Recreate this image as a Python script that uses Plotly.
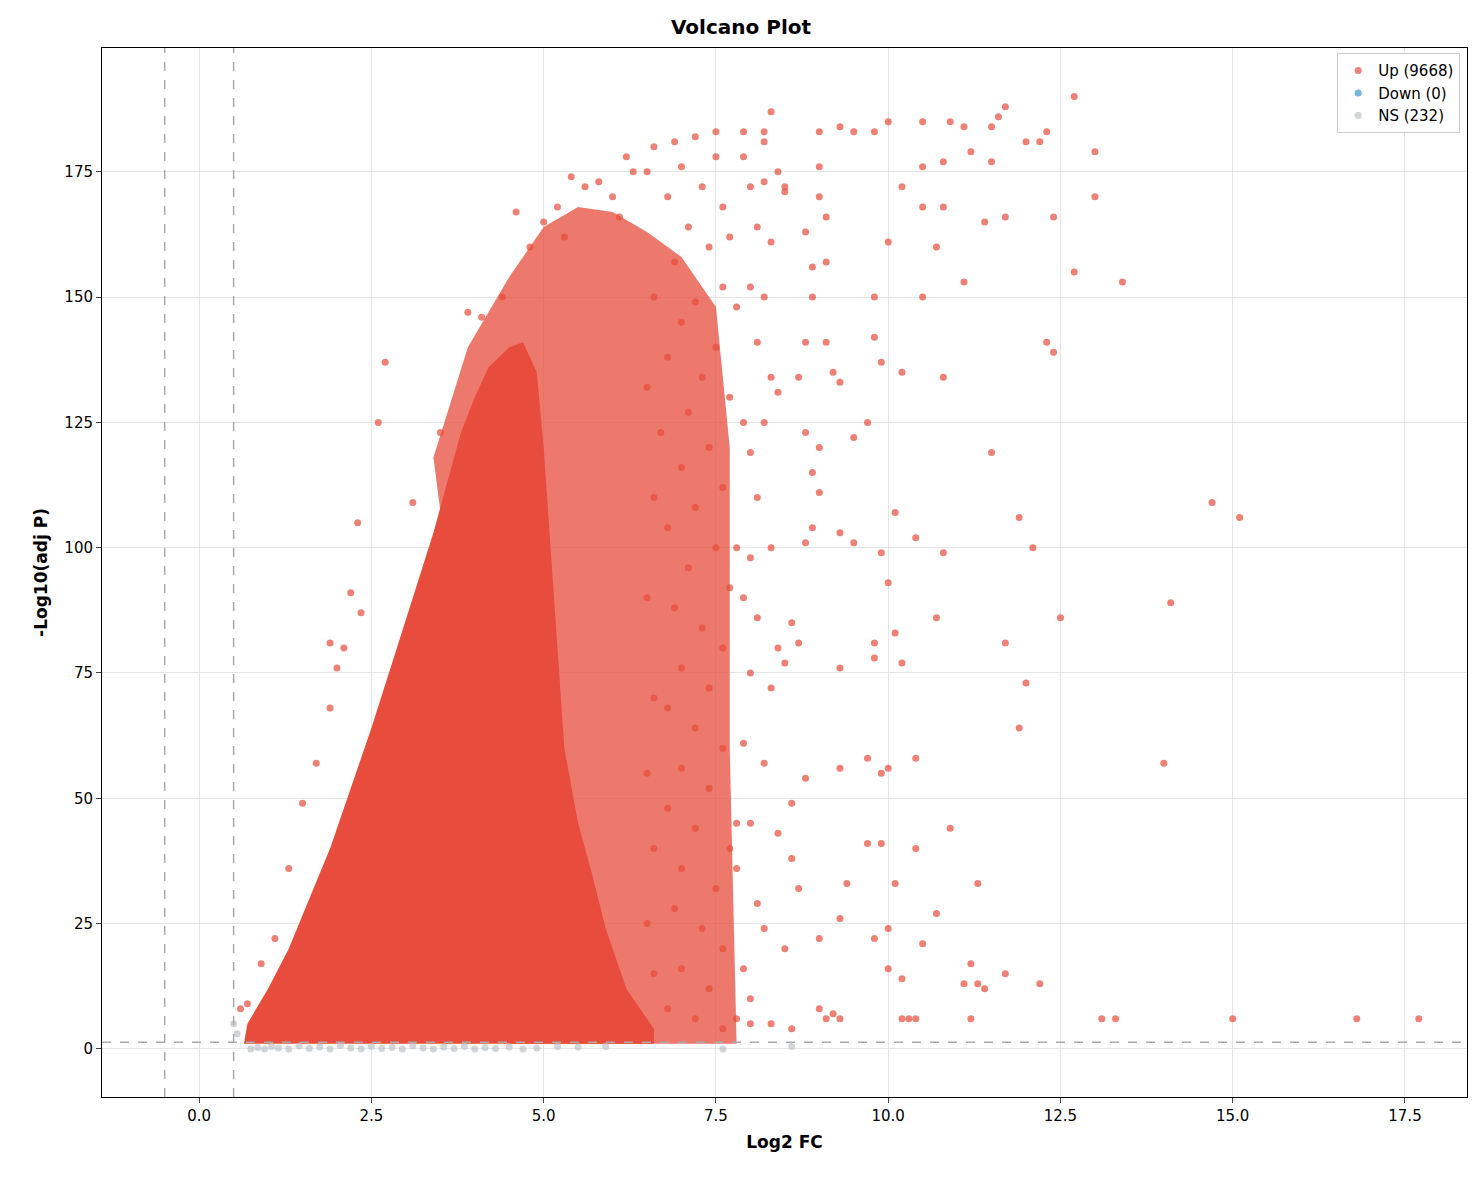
import plotly.graph_objects as go

# dense core of the Up points (outline)
core_x = [0.65, 0.7, 1.0, 1.3, 1.6, 1.9, 2.2, 2.5, 2.8, 3.1, 3.4, 3.6, 3.8, 4.0, 4.2, 4.5, 4.7, 4.9, 5.0, 5.1, 5.2, 5.3, 5.5, 5.7, 5.9, 6.2, 6.6, 6.6]
core_y = [1, 5, 12, 20, 30, 40, 52, 64, 77, 90, 103, 113, 123, 130, 136, 140, 141, 135, 120, 100, 80, 60, 45, 35, 24, 12, 4, 1]
# medium-density band
mid_x = [3.4, 3.9, 4.5, 5.0, 5.5, 6.0, 6.5, 7.0, 7.5, 7.7, 7.7, 7.8, 4.5]
mid_y = [118, 140, 154, 164, 168, 167, 163, 158, 148, 120, 60, 1, 1]

# individual Up points
up_pts = [(12.7,190),(11.7,188),(11.6,186),(10.5,185),(10.0,185),(10.9,185),(11.1,184),(12.3,183),(11.5,184),(8.3,187),
(9.3,184),(9.8,183),(9.5,183),(9.0,183),(8.2,183),(7.9,183),(7.5,183),(13.0,179),(12.2,181),(12.0,181),(11.2,179),
(10.2,172),(10.5,176),(10.8,177),(11.5,177),(13.0,170),(12.4,166),(11.7,166),(11.4,165),(10.5,168),(10.8,168),(10.7,160),
(10.0,161),(11.1,153),(12.7,155),(13.4,153),(10.5,150),(9.8,150),(12.3,141),(12.4,139),(10.8,134),(10.2,135),(9.9,137),
(9.8,142),(9.1,141),(9.2,135),(9.3,133),(9.5,122),(9.7,125),(11.5,119),(9.0,120),(10.1,107),(11.9,106),(14.7,109),
(15.1,106),(12.1,100),(10.4,102),(10.8,99),(9.9,99),(9.3,103),(9.5,101),(10.0,93),(14.1,89),(12.5,86),(10.7,86),
(10.1,83),(9.8,81),(11.7,81),(12.0,73),(10.2,77),(9.8,78),(9.3,76),(11.9,64),(14.0,57),(10.4,58),(10.0,56),(9.7,58),
(9.9,55),(9.3,56),(10.9,44),(9.7,41),(9.9,41),(10.4,40),(11.3,33),(10.1,33),(9.4,33),(10.7,27),(9.3,26),(9.8,22),
(10.0,24),(10.5,21),(9.0,22),(11.2,17),(11.7,15),(10.0,16),(10.2,14),(11.1,13),(11.3,13),(11.4,12),(12.2,13),(13.1,6),
(13.3,6),(15.0,6),(16.8,6),(17.7,6),(10.3,6),(10.2,6),(10.4,6),(11.2,6),(9.3,6),(9.1,6),(8.0,5),(8.3,5),(8.6,4),(9.0,8),
(9.2,7),(8.5,20),(8.7,32),(8.8,54),(8.6,49),(8.6,38),(8.4,43),(8.2,57),(8.3,72),(8.4,80),(8.6,85),(8.5,77),(8.7,81),
(8.8,101),(8.9,104),(8.9,115),(9.0,111),(8.8,123),(8.7,134),(8.8,141),(8.9,150),(8.9,156),(9.1,157),(9.1,166),(9.0,170),
(9.0,176),(8.5,172),(8.5,171),(8.8,163),(8.2,173),(8.4,175),(8.1,164),(8.3,161),(8.2,150),(8.0,152),(8.1,141),(8.3,134),
(8.4,131),(8.2,125),(8.0,119),(8.1,110),(8.3,100),(8.0,98),(7.9,90),(8.1,86),(8.0,75),(7.9,61),(8.0,45),(7.8,36),
(8.1,29),(8.2,24),(7.9,16),(8.0,10),(7.8,6),
(6.6,180),(6.9,181),(7.2,182),(7.0,176),(7.5,178),(7.3,172),(6.8,170),(7.6,168),(7.1,164),(7.4,160),(6.9,157),(7.6,152),
(7.2,149),(7.0,145),(7.5,140),(6.8,138),(7.3,134),(7.7,130),(7.1,127),(6.7,123),(7.4,120),(7.0,116),(7.6,112),(7.2,108),
(6.8,104),(7.5,100),(7.1,96),(7.7,92),(6.9,88),(7.3,84),(7.6,80),(7.0,76),(7.4,72),(6.8,68),(7.2,64),(7.6,60),(7.0,56),
(7.4,52),(6.8,48),(7.2,44),(7.7,40),(7.0,36),(7.5,32),(6.9,28),(7.3,24),(7.6,20),(7.0,16),(7.4,12),(6.8,8),(7.2,6),
(7.6,4),(7.8,45),(7.8,100),(7.9,125),(7.8,148),(7.9,178),(8.0,172),(8.2,181),(7.7,162),(6.6,150),(6.5,132),(6.6,110),
(6.5,90),(6.6,70),(6.5,55),(6.6,40),(6.5,25),(6.6,15),
(2.7,137),(2.6,125),(2.3,105),(2.2,91),(2.35,87),(1.9,81),(2.1,80),(2.0,76),(1.9,68),(1.7,57),(1.5,49),(1.3,36),
(1.1,22),(0.9,17),(0.7,9),(0.6,8),(3.1,109),(3.5,123),(3.9,147),(4.6,167),(5.2,168),(5.4,174),(5.8,173),(6.2,178),(6.5,175),
(5.0,165),(5.6,172),(6.0,170),(6.3,175),(5.3,162),(6.1,166),(4.8,160),(4.4,150),(4.1,146)]
up_x = [p[0] for p in up_pts]
up_y = [p[1] for p in up_pts]

down_x = [None]
down_y = [None]

ns_x = [0.5, 0.55, 0.75, 0.85, 0.95, 1.05, 1.15, 1.3, 1.45, 1.6, 1.75, 1.9, 2.05, 2.2, 2.35, 2.5, 2.65, 2.8, 2.95, 3.1,
        3.25, 3.4, 3.55, 3.7, 3.85, 4.0, 4.15, 4.3, 4.5, 4.7, 4.9, 5.2, 5.5, 5.9, 7.6, 8.6]
ns_y = [5, 3, 0, 0.3, 0, 0.5, 0.2, 0, 0.6, 0.1, 0.4, 0, 0.7, 0.2, 0, 0.5, 0.1, 0.3, 0, 0.6,
        0.2, 0, 0.4, 0.1, 0.5, 0, 0.3, 0.1, 0.4, 0, 0.2, 0.5, 0.4, 0.5, 0, 0.5]

red = "#E74C3C"
fig = go.Figure()
fig.add_trace(go.Scatter(x=mid_x, y=mid_y, fill="toself", mode="lines", line=dict(width=0),
                         fillcolor="rgba(231,76,60,0.75)", showlegend=False, hoverinfo="skip"))
fig.add_trace(go.Scatter(x=core_x, y=core_y, fill="toself", mode="lines", line=dict(width=0),
                         fillcolor=red, showlegend=False, hoverinfo="skip"))
fig.add_trace(go.Scatter(x=up_x, y=up_y, mode="markers", name="Up (9668)",
                         marker=dict(color=red, size=7, opacity=0.7)))
fig.add_trace(go.Scatter(x=down_x, y=down_y, mode="markers", name="Down (0)",
                         marker=dict(color="#3498DB", size=7, opacity=0.7)))
fig.add_trace(go.Scatter(x=ns_x, y=ns_y, mode="markers", name="NS (232)",
                         marker=dict(color="#BDC3C7", size=7, opacity=0.7)))

for xv in [-0.5, 0.5]:
    fig.add_vline(x=xv, line=dict(color="#AAAAAA", dash="dash", width=1.5))
fig.add_hline(y=1.3, line=dict(color="#AAAAAA", dash="dash", width=1.5))

ax = dict(showline=True, linecolor="black", mirror=True, ticks="outside", ticklen=5, automargin=False,
          gridcolor="#E6E6E6", zeroline=False, tickfont=dict(size=15, color="black"))
fig.update_layout(
    width=1466, height=1164, plot_bgcolor="white", paper_bgcolor="white",
    font=dict(family="DejaVu Sans", color="black"),
    margin=dict(l=94, r=7, t=40, b=75, autoexpand=False),
    title=dict(text="<b>Volcano Plot</b>", x=0.5, y=0.984, xanchor="center", yanchor="middle", font=dict(size=20)),
    legend=dict(x=0.995, y=0.995, xanchor="right", yanchor="top", bordercolor="#CCCCCC",
                borderwidth=1, font=dict(size=15)),
    xaxis=dict(ax, range=[-1.41, 18.4], tickvals=[0, 2.5, 5, 7.5, 10, 12.5, 15, 17.5],
               ticktext=["0.0", "2.5", "5.0", "7.5", "10.0", "12.5", "15.0", "17.5"],
               title=dict(text="<b>Log2 FC</b>", font=dict(size=17), standoff=12)),
    yaxis=dict(ax, range=[-9.6, 199.7], tickvals=[0, 25, 50, 75, 100, 125, 150, 175],
               title=dict(text="<b>-Log10(adj P)</b>", font=dict(size=17), standoff=12)),
)
fig.write_html("out.html")
